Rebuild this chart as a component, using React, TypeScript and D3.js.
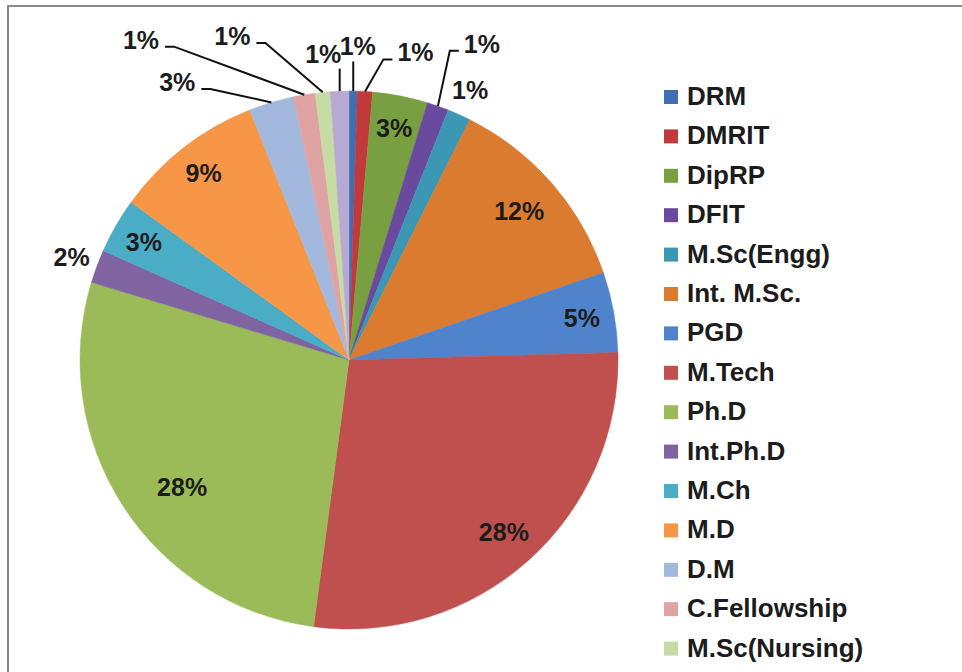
import React, { useEffect, useRef } from "react";
import * as d3 from "d3";

const categories = [
  "DRM", "DMRIT", "DipRP", "DFIT", "M.Sc(Engg)", "Int. M.Sc.", "PGD", "M.Tech",
  "Ph.D", "Int.Ph.D", "M.Ch", "M.D", "D.M", "C.Fellowship", "M.Sc(Nursing)", "Other",
];
const values = [5, 9, 33, 13, 14, 123, 48, 275, 275, 20, 33, 90, 27, 13, 9, 11];
const colors = [
  "#3F6EB3", "#C0393B", "#78A040", "#6A4A9E", "#3B97B3", "#DB7B30", "#4F84CD", "#C0504D",
  "#9BBB59", "#8064A2", "#4BACC6", "#F79646", "#A2B8DC", "#E0A3A3", "#C6DCA4", "#B8A9D3",
];
// number of legend entries visible inside the frame
const legendVisible = 15;

// label placement: polar angle (deg, clockwise from top; null = slice mid-angle), radius factor, leader?
const labelLayout: Record<string, { a: number | null; k: number; leader: boolean }> = {
  "DRM": { a: 1.6, k: 1.166, leader: true },
  "DMRIT": { a: 12.2, k: 1.17, leader: true },
  "DipRP": { a: null, k: 0.88, leader: false },
  "DFIT": { a: 22.8, k: 1.275, leader: true },
  "M.Sc(Engg)": { a: null, k: 1.1, leader: false },
  "Int. M.Sc.": { a: null, k: 0.84, leader: false },
  "PGD": { a: null, k: 0.88, leader: false },
  "M.Tech": { a: null, k: 0.86, leader: false },
  "Ph.D": { a: 232.7, k: 0.78, leader: false },
  "Int.Ph.D": { a: null, k: 1.1, leader: false },
  "M.Ch": { a: null, k: 0.88, leader: false },
  "M.D": { a: null, k: 0.88, leader: false },
  "D.M": { a: 328.3, k: 1.215, leader: true },
  "C.Fellowship": { a: 327, k: 1.42, leader: true },
  "M.Sc(Nursing)": { a: 340.2, k: 1.28, leader: true },
  "Other": { a: 355.2, k: 1.143, leader: true },
};

const W = 962;
const H = 672;
const FONT = "'Liberation Sans', Arial, sans-serif";

export default function App() {
  const ref = useRef<SVGSVGElement | null>(null);

  useEffect(() => {
    const svg = d3.select(ref.current);
    svg.selectAll("*").remove();

    svg.append("rect").attr("width", W).attr("height", H).attr("fill", "#fff");
    svg.append("rect")
      .attr("x", 8).attr("y", 6).attr("width", W + 20).attr("height", H + 20)
      .attr("fill", "none").attr("stroke", "#8a8a8a").attr("stroke-width", 2);

    const cx = 349, cy = 360, r = 269;
    const data = categories.map((c, i) => ({ name: c, value: values[i], color: colors[i] }));
    const total = d3.sum(values);
    const pie = d3.pie<any>().sort(null).value((d: any) => d.value).startAngle(0).endAngle(2 * Math.PI);
    const arcs = pie(data);
    const arc = d3.arc<any>().innerRadius(0).outerRadius(r);

    const g = svg.append("g").attr("transform", `translate(${cx},${cy})`);
    g.selectAll("path.slice").data(arcs).enter().append("path")
      .attr("class", "slice")
      .attr("d", arc as any)
      .attr("fill", (d: any) => d.data.color)
      .attr("stroke", (d: any) => d.data.color)
      .attr("stroke-width", 0.5);

    const fs = 25;
    const polar = (angDeg: number, rad: number) => {
      const a = (angDeg * Math.PI) / 180;
      return [Math.sin(a) * rad, -Math.cos(a) * rad];
    };

    arcs.forEach((d: any) => {
      const lay = labelLayout[d.data.name];
      const mid = ((d.startAngle + d.endAngle) / 2) * 180 / Math.PI;
      const ang = lay.a == null ? mid : lay.a;
      const [tx, ty] = polar(ang, lay.k * r);
      const pct = Math.round((d.data.value / total) * 100) + "%";
      const baseline = ty + fs * 0.36;
      const t = g.append("text")
        .attr("x", tx).attr("y", baseline)
        .attr("text-anchor", "middle")
        .attr("font-family", FONT).attr("font-weight", "bold")
        .attr("font-size", fs).attr("fill", "#1c1c1c")
        .text(pct);
      if (lay.leader) {
        const w = (t.node() as SVGTextElement).getComputedTextLength();
        const [ex, ey] = polar(mid, r);
        let pts: [number, number][];
        if (Math.abs(tx - ex) < 20) {
          pts = [[ex, baseline + 6], [ex, ey]];
        } else if (tx < ex) {
          const sx = tx + w / 2 + 6;
          pts = [[sx, baseline - 2], [sx + 9, baseline - 2], [ex, ey]];
        } else {
          const sx = tx - w / 2 - 5;
          pts = [[sx, baseline - 2], [sx - 9, baseline - 2], [ex, ey]];
        }
        g.append("path")
          .attr("d", d3.line()(pts) as string)
          .attr("fill", "none").attr("stroke", "#111").attr("stroke-width", 2);
      }
    });

    // legend
    const lx = 664, ly0 = 105, step = 39.4;
    const lg = svg.append("g");
    data.slice(0, legendVisible).forEach((d, i) => {
      const y = ly0 + i * step;
      lg.append("rect").attr("x", lx).attr("y", y - 15).attr("width", 14).attr("height", 14).attr("fill", d.color);
      lg.append("text").attr("x", lx + 23).attr("y", y)
        .attr("font-family", FONT).attr("font-weight", "bold")
        .attr("font-size", 26).attr("fill", "#1c1c1c").text(d.name);
    });
  }, []);

  return (
    <svg ref={ref} width={W} height={H}
      style={{ position: "absolute", left: 0, top: 0, display: "block" }} />
  );
}
